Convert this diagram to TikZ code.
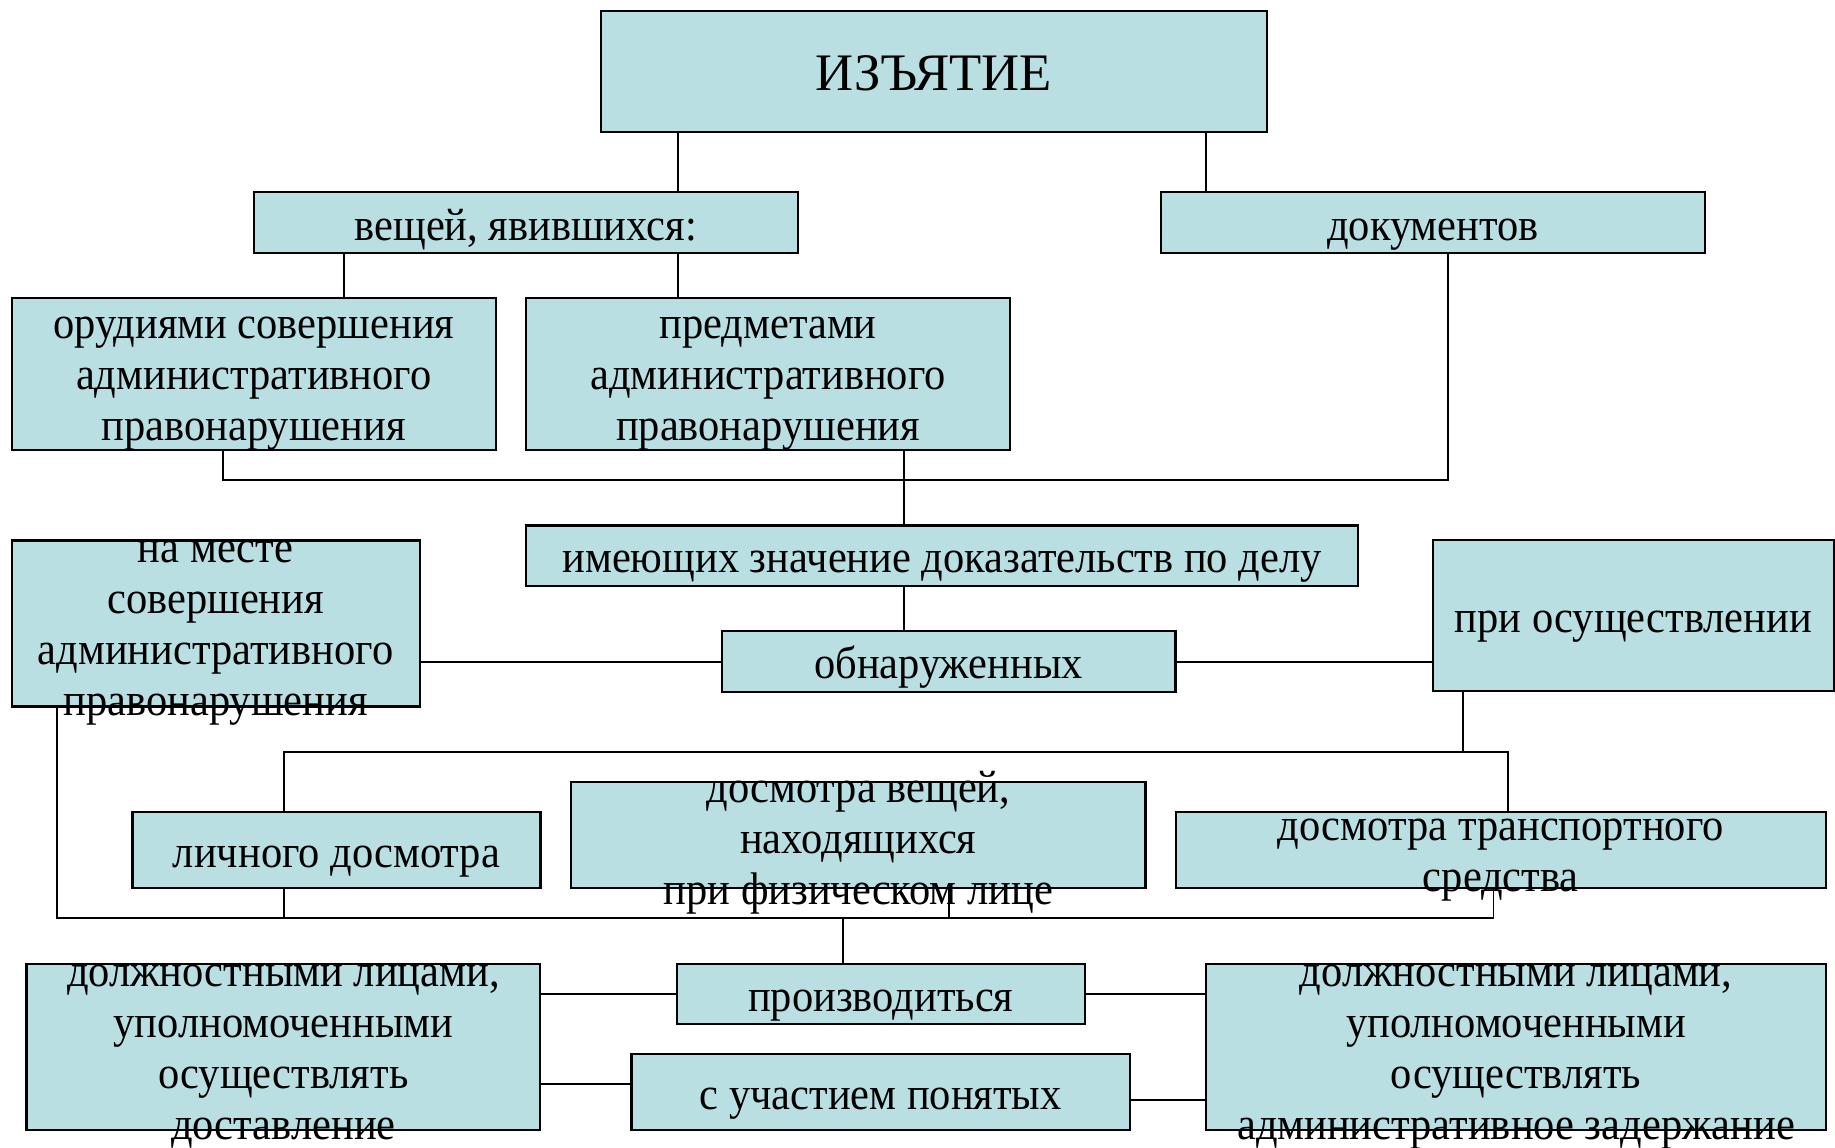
\documentclass[tikz,border=0pt]{standalone}
\usepackage{fontspec}
\setmainfont{Liberation Serif}[FakeStretch=0.93]
\newfontfamily\zagl{Liberation Serif}
\definecolor{blokfill}{HTML}{B9DFE3}
\newcommand\opora{\rule[-.24em]{0pt}{1.115em}}
\begin{document}
\begin{tikzpicture}[x=0.02cm,y=-0.02cm,
  blok/.style={draw=black,line width=1.2pt,fill=blokfill,inner sep=0pt},
  tekst/.style={align=center,inner sep=0pt,font=\fontsize{26}{29}\selectfont,
    execute at begin node=\opora,execute at end node=\opora,yshift=-1.5pt},
  tekstm/.style={tekst,yshift=-4.5pt},
  svyaz/.style={line width=1.1pt}]
\useasboundingbox (0,0) rectangle (1835,1147);
% boxes
\node[blok,minimum width=13.32cm,minimum height=2.42cm] (izyat) at (934,71.5) {};
\node[blok,minimum width=10.89cm,minimum height=1.22cm] (veshch) at (525.8,222.9) {};
\node[blok,minimum width=10.88cm,minimum height=1.22cm] (dokum) at (1433,222.9) {};
\node[blok,minimum width=9.68cm,minimum height=3.05cm] (orud) at (253.8,374) {};
\node[blok,minimum width=9.68cm,minimum height=3.05cm] (predm) at (768,374) {};
\node[blok,minimum width=16.64cm,minimum height=1.21cm] (imeyu) at (942,555.7) {};
\node[blok,minimum width=8.16cm,minimum height=3.32cm] (namest) at (215.6,623.5) {};
\node[blok,minimum width=9.08cm,minimum height=1.22cm] (obnar) at (948.5,661.6) {};
\node[blok,minimum width=8.03cm,minimum height=3.02cm] (prios) at (1633.3,615.6) {};
\node[blok,minimum width=8.16cm,minimum height=1.51cm] (lichn) at (336.5,850.1) {};
\node[blok,minimum width=11.49cm,minimum height=2.11cm] (dosvesh) at (858.3,835.1) {};
\node[blok,minimum width=13.01cm,minimum height=1.51cm] (dostr) at (1500.8,850.1) {};
\node[blok,minimum width=8.17cm,minimum height=1.21cm] (proizv) at (880.8,994.1) {};
\node[blok,minimum width=9.97cm,minimum height=1.51cm] (suchast) at (880.7,1092.1) {};
\node[blok,minimum width=10.28cm,minimum height=3.32cm] (dolzhL) at (283.4,1046.9) {};
\node[blok,minimum width=12.4cm,minimum height=3.32cm] (dolzhR) at (1516,1046.9) {};
% columns and rows of the connectors
\coordinate (xa) at (677.7,0);
\coordinate (xb) at (1206,0);
\coordinate (xc) at (344,0);
\coordinate (xd) at (223,0);
\coordinate (xe) at (1448,0);
\coordinate (xf) at (903.6,0);
\coordinate (xg) at (1463,0);
\coordinate (xh) at (284,0);
\coordinate (xi) at (1508,0);
\coordinate (xj) at (56.9,0);
\coordinate (xk) at (1493.5,0);
\coordinate (xl) at (949,0);
\coordinate (xm) at (843,0);
\coordinate (ya) at (0,479.8);
\coordinate (yb) at (0,752);
\coordinate (yc) at (0,917.9);
\coordinate (yd) at (0,1084.3);
\coordinate (ye) at (0,1100);
% connectors
\draw[svyaz] (izyat.south -| xa) -- (veshch.north -| xa);
\draw[svyaz] (izyat.south -| xb) -- (dokum.north -| xb);
\draw[svyaz] (veshch.south -| xc) -- (orud.north -| xc);
\draw[svyaz] (veshch.south -| xa) -- (predm.north -| xa);
\draw[svyaz] (orud.south -| xd) -- (xd |- ya) -- (xe |- ya) -- (dokum.south -| xe);
\draw[svyaz] (predm.south -| xf) -- (imeyu.north -| xf);
\draw[svyaz] (imeyu.south -| xf) -- (obnar.north -| xf);
\draw[svyaz] (namest.east |- obnar.west) -- (obnar.west);
\draw[svyaz] (obnar.east) -- (prios.west |- obnar.east);
\draw[svyaz] (prios.south -| xg) -- (xg |- yb);
\draw[svyaz] (lichn.north -| xh) -- (xh |- yb) -- (xi |- yb) -- (dostr.north -| xi);
\draw[svyaz] (namest.south -| xj) -- (xj |- yc) -- (xk |- yc) -- (dostr.south -| xk);
\draw[svyaz] (lichn.south -| xh) -- (xh |- yc);
\draw[svyaz] (dosvesh.south -| xl) -- (xl |- yc);
\draw[svyaz] (xm |- yc) -- (proizv.north -| xm);
\draw[svyaz] (dolzhL.east |- proizv.west) -- (proizv.west);
\draw[svyaz] (proizv.east) -- (dolzhR.west |- proizv.east);
\draw[svyaz] (dolzhL.east |- yd) -- (suchast.west |- yd);
\draw[svyaz] (suchast.east |- ye) -- (dolzhR.west |- ye);
% texts
\node[tekst,font=\zagl\fontsize{30}{33}\selectfont] (izyat-t) at (izyat) {ИЗЪЯТИЕ};
\node[tekst] (veshch-t) at (veshch) {вещей, явившихся:};
\node[tekst] (dokum-t) at (dokum) {документов};
\node[tekstm] (orud-t) at (orud) {орудиями совершения\\административного\\правонарушения};
\node[tekstm] (predm-t) at (predm) {предметами\\административного\\правонарушения};
\node[tekst] (imeyu-t) at (imeyu) {имеющих значение доказательств по делу};
\node[tekstm] (namest-t) at (namest) {на месте\\совершения\\административного\\правонарушения};
\node[tekst] (obnar-t) at (obnar) {обнаруженных};
\node[tekst] (prios-t) at (prios) {при осуществлении};
\node[tekst] (lichn-t) at (lichn) {личного досмотра};
\node[tekstm,yshift=1.5pt] (dosvesh-t) at (dosvesh) {досмотра вещей,\\находящихся\\при физическом лице};
\node[tekstm] (dostr-t) at (dostr) {досмотра транспортного\\средства};
\node[tekst] (proizv-t) at (proizv) {производиться};
\node[tekst] (suchast-t) at (suchast) {с участием понятых};
\node[tekstm] (dolzhL-t) at (dolzhL) {должностными лицами,\\уполномоченными\\осуществлять\\доставление};
\node[tekstm] (dolzhR-t) at (dolzhR) {должностными лицами,\\уполномоченными\\осуществлять\\административное задержание};
\end{tikzpicture}
\end{document}
